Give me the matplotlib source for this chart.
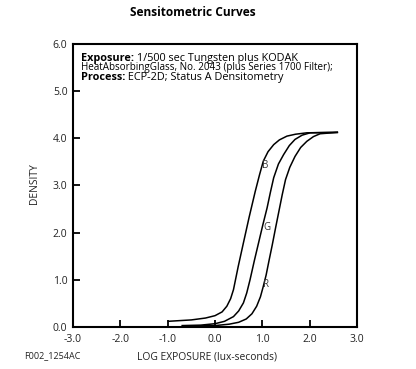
'''
Sensitometric curves (B, G, R) for ECP-2D process
'''

import matplotlib
matplotlib.use('Agg')
import matplotlib.pyplot as plt

plt.rcParams['font.family'] = ['Open Sans', 'DejaVu Sans']
plt.rcParams['axes.unicode_minus'] = False

# curve data: log exposure vs density
b_log_e = [-1.0, -0.5, -0.2, 0.0, 0.15, 0.25, 0.33, 0.39, 0.49, 0.60, 0.72, 0.85,
           0.94, 1.02, 1.12, 1.24, 1.36, 1.52, 1.70, 1.94, 2.6]
b_density = [0.12, 0.15, 0.19, 0.24, 0.32, 0.44, 0.60, 0.79, 1.28, 1.78, 2.32, 2.87,
             3.22, 3.51, 3.71, 3.86, 3.96, 4.04, 4.08, 4.11, 4.12]

g_log_e = [-0.71, -0.3, 0.0, 0.2, 0.39, 0.50, 0.60, 0.67, 0.74, 0.83, 0.92, 1.01,
           1.10, 1.17, 1.24, 1.34, 1.45, 1.57, 1.69, 1.84, 2.01, 2.6]
g_density = [0.03, 0.04, 0.07, 0.12, 0.22, 0.34, 0.51, 0.72, 1.00, 1.40, 1.78, 2.16,
             2.52, 2.85, 3.16, 3.45, 3.65, 3.84, 3.97, 4.06, 4.11, 4.12]

r_log_e = [-0.55, 0.0, 0.30, 0.50, 0.66, 0.78, 0.88, 0.96, 1.02, 1.08, 1.14, 1.21,
           1.28, 1.35, 1.42, 1.49, 1.58, 1.69, 1.81, 1.94, 2.08, 2.22, 2.6]
r_density = [0.02, 0.03, 0.06, 0.10, 0.17, 0.28, 0.44, 0.64, 0.86, 1.10, 1.40, 1.74,
             2.10, 2.45, 2.80, 3.12, 3.38, 3.61, 3.80, 3.93, 4.03, 4.09, 4.12]

# curve labels (name, log E, density)
curve_labels = [('B', 1.07, 3.42), ('G', 1.09, 2.10), ('R', 1.08, 0.90)]

x_ticks = [-3.0, -2.0, -1.0, 0.0, 1.0, 2.0, 3.0]
y_ticks = [0.0, 1.0, 2.0, 3.0, 4.0, 5.0, 6.0]


def main():
    fig = plt.figure(figsize=(4.16, 3.69), dpi=100)
    ax = fig.add_axes([0.1755, 0.1138, 0.6827, 0.7683])

    for xs, ys in [(b_log_e, b_density), (g_log_e, g_density), (r_log_e, r_density)]:
        ax.plot(xs, ys, color='black', lw=1.1, solid_capstyle='butt')

    for name, x, y in curve_labels:
        ax.text(x, y, name, fontsize=7, color='#333333', ha='center', va='center')

    ax.set_xlim(-3, 3)
    ax.set_ylim(0, 6)
    ax.set_xticks(x_ticks)
    ax.set_yticks(y_ticks)
    ax.set_xticklabels(['%.1f' % v for v in x_ticks])
    ax.set_yticklabels(['%.1f' % v for v in y_ticks])
    ax.tick_params(direction='in', length=5, width=1.3, labelsize=7.5,
                   labelcolor='#222222', top=False, right=False)
    ax.tick_params(axis='x', pad=5)
    ax.tick_params(axis='y', pad=4)
    for sp in ax.spines.values():
        sp.set_linewidth(1.5)

    # exposure / process note inside the plot (baselines 10 px apart)
    fs = 7.8
    t1 = ax.text(-2.84, 5.64, 'Exposure:', fontsize=fs, fontweight='bold', va='baseline')
    ax.annotate(' 1/500 sec Tungsten plus KODAK', xy=(1, 0), xycoords=t1,
                fontsize=fs, va='bottom')
    ax.text(-2.84, 5.43, 'HeatAbsorbingGlass, No. 2043 (plus Series 1700 Filter);',
            fontsize=7.1, va='baseline')
    t3 = ax.text(-2.84, 5.22, 'Process:', fontsize=fs, fontweight='bold', va='baseline')
    ax.annotate(' ECP-2D; Status A Densitometry', xy=(1, 0), xycoords=t3,
                fontsize=fs, va='bottom')

    fig.text(193 / 416, 1 - 12 / 369, 'Sensitometric Curves', fontsize=8.6,
             fontweight='bold', ha='center', va='center')
    fig.text(35 / 416, 1 - 184 / 369, 'DENSITY', fontsize=7.4, rotation=90,
             ha='center', va='center', color='#222222')
    fig.text(207 / 416, 1 - 357 / 369, 'LOG EXPOSURE (lux-seconds)', fontsize=7.4,
             ha='center', va='center', color='#222222')
    fig.text(24 / 416, 1 - 356 / 369, 'F002_1254AC', fontsize=6.5,
             ha='left', va='center', color='#222222')

    fig.savefig('out.png', dpi=100)


if __name__ == "__main__":
    main()
